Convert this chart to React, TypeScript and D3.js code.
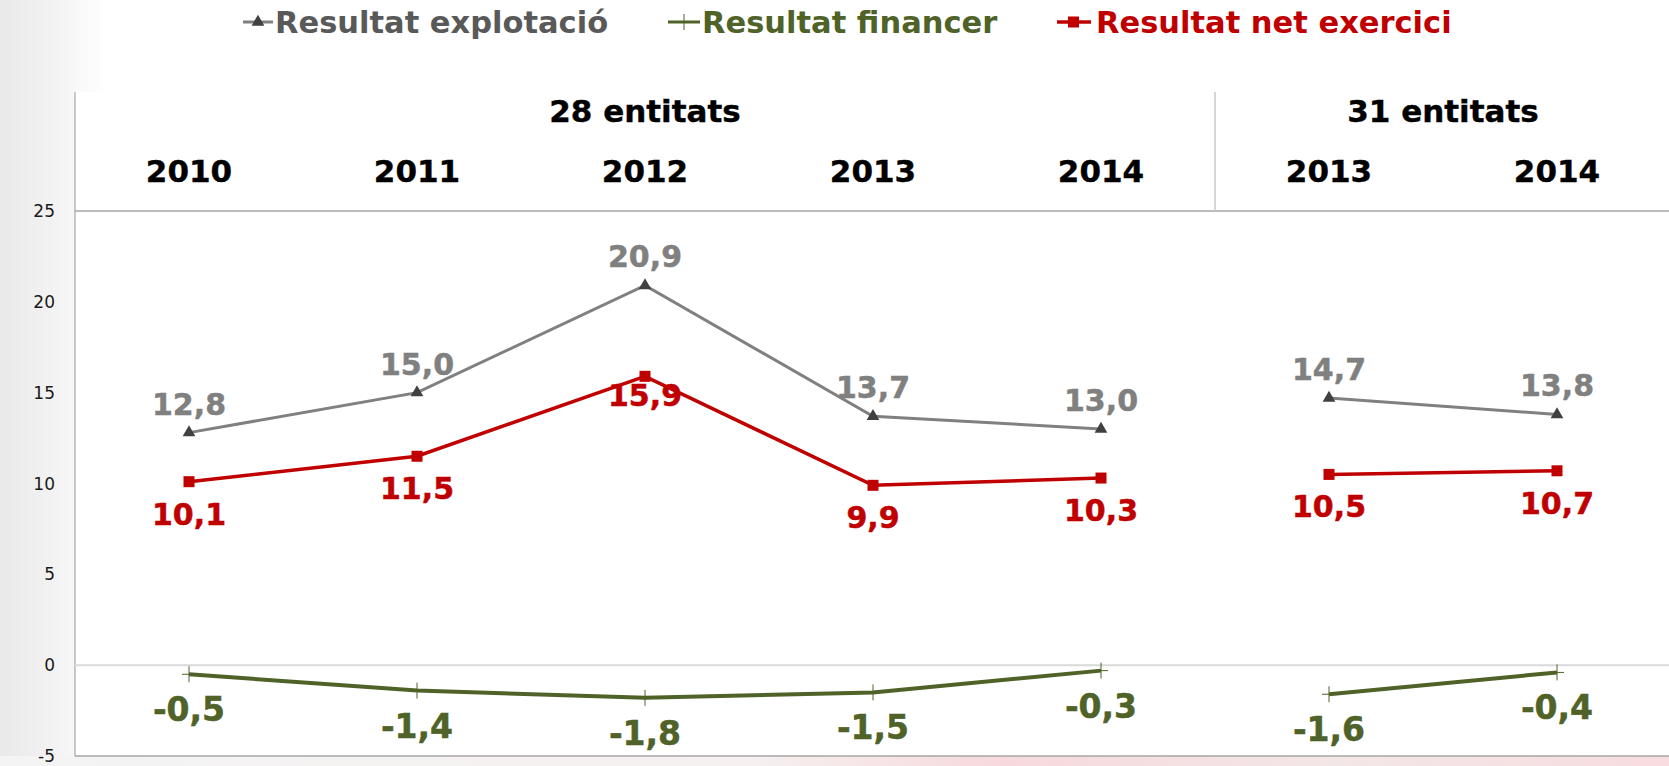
import React from 'react';
import * as d3 from 'd3';

// categories (two groups of entities)
const years = ['2010', '2011', '2012', '2013', '2014', '2013', '2014'];
const groupLabels = ['28 entitats', '31 entitats'];
const groupSizes = [5, 2];

// values (milions)
const explotacio = [12.8, 15.0, 20.9, 13.7, 13.0, 14.7, 13.8];
const financer = [-0.5, -1.4, -1.8, -1.5, -0.3, -1.6, -0.4];
const net = [10.1, 11.5, 15.9, 9.9, 10.3, 10.5, 10.7];

const yTicks = [-5, 0, 5, 10, 15, 20, 25];

const seriesNames = ['Resultat explotació', 'Resultat financer', 'Resultat net exercici'];

const W = 1669;
const H = 766;
const FONT = '"DejaVu Sans", Verdana, sans-serif';

const fmt = (v: number) => v.toFixed(1).replace('.', ',');

export default function App() {
  const margin = { left: 75, top: 211, bottom: 756 };
  const step = 228;

  const x = d3.scaleBand<number>()
    .domain(years.map((_, i) => i))
    .range([margin.left, margin.left + step * years.length])
    .paddingInner(0)
    .paddingOuter(0);
  const cx = (i: number) => (x(i) as number) + x.bandwidth() / 2;

  const y = d3.scaleLinear().domain([-5, 25]).range([margin.bottom, margin.top]);

  // group index ranges
  const groups: { label: string; start: number; end: number }[] = [];
  let acc = 0;
  groupSizes.forEach((n, g) => {
    groups.push({ label: groupLabels[g], start: acc, end: acc + n - 1 });
    acc += n;
  });

  const line = d3.line<[number, number]>().x(d => d[0]).y(d => d[1]);
  const segPaths = (vals: number[]) =>
    groups.map(gr => {
      const pts: [number, number][] = [];
      for (let i = gr.start; i <= gr.end; i++) pts.push([cx(i), y(vals[i])]);
      return line(pts) as string;
    });

  const tri = d3.symbol().type(d3.symbolTriangle).size(70)() as string;

  const gray = '#808080';
  const grayDark = '#404040';
  const red = '#c00000';
  const green = '#4f6228';

  const cross = (px: number, py: number, k: string | number) => (
    <g key={k} stroke={green} strokeWidth={1}>
      <line x1={px - 7} x2={px + 7} y1={py} y2={py} />
      <line x1={px} x2={px} y1={py - 8} y2={py + 8} />
    </g>
  );

  const legendX = [243, 668, 1057];
  const legendColors = ['#595959', green, red];

  // the 2012 net label sits closer to its marker in the original
  const netDy = (i: number) => (i === 2 ? 30 : 43);

  return (
    <svg width={W} height={H} style={{ position: 'fixed', left: 0, top: 0, display: 'block' }}
      fontFamily={FONT}>
      <defs>
        <linearGradient id="leftbg" x1="0" x2="1" y1="0" y2="0">
          <stop offset="0" stopColor="#e9e9e9" />
          <stop offset="0.6" stopColor="#f1f1f1" />
          <stop offset="1" stopColor="#f7f7f7" />
        </linearGradient>
        <linearGradient id="bottombg" x1="0" x2="1" y1="0" y2="0">
          <stop offset="0" stopColor="#f4f4f4" />
          <stop offset="0.45" stopColor="#f6f0f0" />
          <stop offset="0.6" stopColor="#f7d9dc" />
          <stop offset="0.8" stopColor="#f3e6e7" />
          <stop offset="1" stopColor="#f8dcdf" />
        </linearGradient>
        <linearGradient id="topleft" x1="0" x2="1" y1="0" y2="0">
          <stop offset="0" stopColor="#ebebeb" />
          <stop offset="1" stopColor="#ffffff" />
        </linearGradient>
      </defs>
      <rect x={0} y={0} width={W} height={H} fill="#ffffff" />
      <rect x={0} y={0} width={110} height={margin.top} fill="url(#topleft)" />
      <rect x={0} y={0} width={margin.left} height={H} fill="url(#leftbg)" />
      <rect x={0} y={margin.bottom} width={W} height={H - margin.bottom} fill="url(#bottombg)" />
      <rect x={margin.left} y={margin.top} width={W - margin.left} height={margin.bottom - margin.top} fill="#ffffff" />
      <rect x={margin.left} y={92} width={W - margin.left} height={margin.top - 92} fill="#ffffff" />

      {/* legend */}
      {seriesNames.map((name, i) => {
        const lx = legendX[i];
        const my = 22;
        return (
          <g key={name}>
            {i === 0 && (
              <g>
                <line x1={lx} x2={lx + 30} y1={my} y2={my} stroke={gray} strokeWidth={3} />
                <path d={tri} transform={`translate(${lx + 15},${my})`} fill={grayDark} />
              </g>
            )}
            {i === 1 && (
              <g>
                <line x1={lx} x2={lx + 32} y1={my} y2={my} stroke={green} strokeWidth={3} />
                {cross(lx + 16, my, 'lg')}
              </g>
            )}
            {i === 2 && (
              <g>
                <line x1={lx} x2={lx + 34} y1={my} y2={my} stroke={red} strokeWidth={3.5} />
                <rect x={lx + 11} y={my - 5.5} width={11} height={11} fill={red} />
              </g>
            )}
            <text x={lx + (i === 0 ? 32 : i === 1 ? 34 : 39)} y={33} fontSize={30.5} fontWeight="bold"
              fill={legendColors[i]}>{name}</text>
          </g>
        );
      })}

      {/* frame */}
      <line x1={margin.left} x2={margin.left} y1={92} y2={margin.bottom} stroke="#a6a6a6" strokeWidth={1.2} />
      <line x1={margin.left} x2={W} y1={margin.top} y2={margin.top} stroke="#a6a6a6" strokeWidth={1.5} />
      <line x1={margin.left} x2={W} y1={margin.bottom} y2={margin.bottom} stroke="#a6a6a6" strokeWidth={1.5} />
      <line x1={margin.left} x2={W} y1={y(0)} y2={y(0)} stroke="#d9d9d9" strokeWidth={2} />
      {groups.slice(1).map(gr => (
        <line key={gr.label} x1={x(gr.start) as number} x2={x(gr.start) as number} y1={92} y2={margin.top}
          stroke="#c8c8c8" strokeWidth={1.5} />
      ))}

      {/* y axis labels */}
      {yTicks.map(t => (
        <text key={t} x={55} y={y(t)} dy="0.36em" textAnchor="end" fontSize={17} fill="#1a1a1a">{t}</text>
      ))}

      {/* group headers + years */}
      {groups.map(gr => (
        <text key={gr.label} x={(cx(gr.start) + cx(gr.end)) / 2} y={122} textAnchor="middle"
          fontSize={31} fontWeight="bold" fill="#000" stroke="#000" strokeWidth={0.4}>{gr.label}</text>
      ))}
      {years.map((yr, i) => (
        <text key={i} x={cx(i)} y={182} textAnchor="middle" fontSize={31} fontWeight="bold" fill="#000"
          stroke="#000" strokeWidth={0.4}>{yr}</text>
      ))}

      {/* lines */}
      {segPaths(explotacio).map((d, k) => <path key={'e' + k} d={d} fill="none" stroke={gray} strokeWidth={3} />)}
      {segPaths(net).map((d, k) => <path key={'n' + k} d={d} fill="none" stroke={red} strokeWidth={3.5} />)}
      {segPaths(financer).map((d, k) => <path key={'f' + k} d={d} fill="none" stroke={green} strokeWidth={4} />)}

      {/* markers */}
      {explotacio.map((v, i) => (
        <path key={'em' + i} d={tri} transform={`translate(${cx(i)},${y(v)})`} fill={grayDark} />
      ))}
      {net.map((v, i) => (
        <rect key={'nm' + i} x={cx(i) - 5.5} y={y(v) - 5.5} width={11} height={11} fill={red} />
      ))}
      {financer.map((v, i) => cross(cx(i), y(v), 'fm' + i))}

      {/* data labels */}
      {explotacio.map((v, i) => (
        <text key={'el' + i} x={cx(i)} y={y(v) - 18} textAnchor="middle" fontSize={30} fontWeight="bold"
          fill={gray} stroke={gray} strokeWidth={0.5}>{fmt(v)}</text>
      ))}
      {net.map((v, i) => (
        <text key={'nl' + i} x={cx(i)} y={y(v) + netDy(i)} textAnchor="middle" fontSize={30}
          fontWeight="bold" fill={red} stroke={red} strokeWidth={0.5}>{fmt(v)}</text>
      ))}
      {financer.map((v, i) => (
        <text key={'fl' + i} x={cx(i)} y={y(v) + 47} textAnchor="middle" fontSize={33} fontWeight="bold"
          fill={green} stroke={green} strokeWidth={0.5}>{fmt(v)}</text>
      ))}
    </svg>
  );
}
